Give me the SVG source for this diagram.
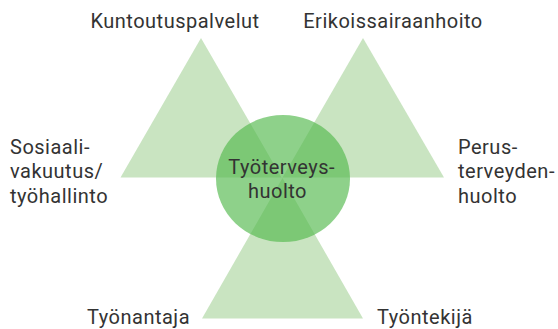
<svg xmlns="http://www.w3.org/2000/svg" width="558" height="329" viewBox="0 0 558 329">
<style>
.tri{fill:#c9e4c1}
.hub{fill:rgb(84,185,78);fill-opacity:0.66}
text{font-family:Roboto,"Liberation Sans",sans-serif;font-size:20px;letter-spacing:0.5px;fill:#333}
.m{text-anchor:middle}
</style>
<rect width="558" height="329" fill="#fff"/>
<g id="kuntoutuspalvelut">
<polygon class="tri" points="201,38 281.5,177.5 120.5,177.5"/>
<text class="m" x="175" y="28">Kuntoutuspalvelut</text>
</g>
<g id="erikoissairaanhoito">
<polygon class="tri" points="363,38 444,177.5 282.5,177.5"/>
<text class="m" x="393" y="28">Erikoissairaanhoito</text>
</g>
<g id="tyonantaja-tyontekija">
<polygon class="tri" points="282.5,178 363,318.5 202,318.5"/>
<text x="87" y="323.5">Työnantaja</text>
<text x="377" y="323.5">Työntekijä</text>
</g>
<g id="sosiaalivakuutus">
<text x="10" y="154">Sosiaali-</text>
<text x="10" y="178">vakuutus/</text>
<text x="10" y="202.5">työhallinto</text>
</g>
<g id="perusterveydenhuolto">
<text x="458" y="154">Perus-</text>
<text x="458" y="178">terveyden-</text>
<text x="458" y="202.5">huolto</text>
</g>
<g id="tyoterveyshuolto">
<ellipse class="hub" cx="283" cy="178.5" rx="67" ry="63.5"/>
<text class="m" x="281.7" y="174">Työterveys-</text>
<text class="m" x="277.5" y="198">huolto</text>
</g>
</svg>
